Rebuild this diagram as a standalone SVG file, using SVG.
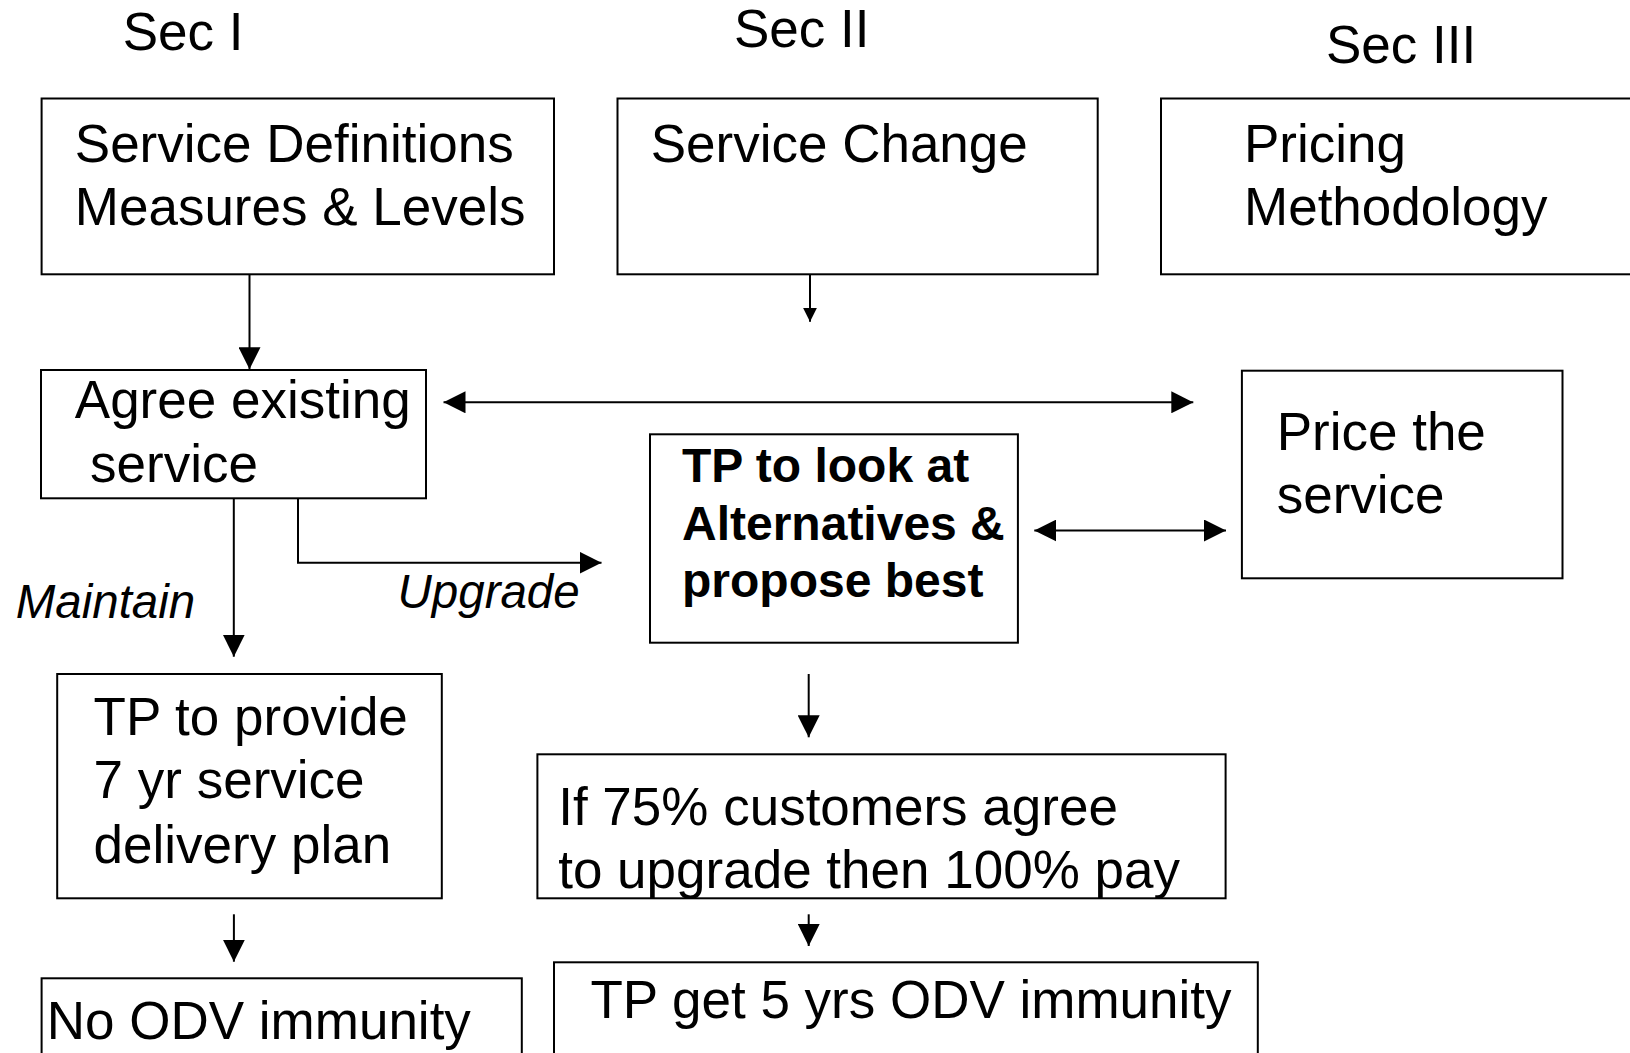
<svg xmlns="http://www.w3.org/2000/svg" width="1630" height="1053" viewBox="0 0 1630 1053">
<style>
.box{fill:#fff;stroke:#000;stroke-width:2}
.t{font-family:"Liberation Sans",Arial,sans-serif;font-size:53px;fill:#000}
.b{font-weight:bold;font-size:48px}
.i{font-style:italic;font-size:47.5px}
.c{fill:none;stroke:#000;stroke-width:2}
</style>
<defs>
<marker id="ah" markerUnits="userSpaceOnUse" markerWidth="22" markerHeight="22" viewBox="0 0 20 20" refX="20" refY="10" orient="auto-start-reverse">
<path d="M0,0 L20,10 L0,20 Z" fill="#000"/>
</marker>
<marker id="as" markerUnits="userSpaceOnUse" markerWidth="14" markerHeight="14" viewBox="0 0 13 13" refX="13" refY="6.5" orient="auto">
<path d="M0,0 L13,6.5 L0,13 Z" fill="#000"/>
</marker>
</defs>
<rect width="1630" height="1053" fill="#fff"/>
<g id="titles">
<text class="t" x="122.7" y="50">Sec I</text>
<text class="t" x="734" y="46.7">Sec II</text>
<text class="t" x="1326" y="63.3">Sec III</text>
</g>
<g id="n-defs">
<rect class="box" x="41.6" y="98.5" width="512.4" height="175.8"/>
<text class="t" x="74.8" y="161.7">Service Definitions</text>
<text class="t" x="74.8" y="225">Measures &amp; Levels</text>
</g>
<g id="n-change">
<rect class="box" x="617.5" y="98.5" width="480.2" height="175.8"/>
<text class="t" x="650.7" y="161.7">Service Change</text>
</g>
<g id="n-pricing">
<rect class="box" x="1161" y="98.5" width="480" height="175.8"/>
<text class="t" x="1244" y="161.7">Pricing</text>
<text class="t" x="1244" y="225">Methodology</text>
</g>
<g id="n-agree">
<rect class="box" x="41" y="370" width="385" height="128.3"/>
<text class="t" x="74.8" y="418.3">Agree existing</text>
<text class="t" x="90" y="481.7">service</text>
</g>
<g id="n-alt">
<rect class="box" x="650" y="434.3" width="367.9" height="208.4"/>
<text class="t b" x="682" y="481.7">TP to look at</text>
<text class="t b" x="682" y="540">Alternatives &amp;</text>
<text class="t b" x="682" y="596.7">propose best</text>
</g>
<g id="n-price">
<rect class="box" x="1241.9" y="370.7" width="320.6" height="207.6"/>
<text class="t" x="1276.7" y="450">Price the</text>
<text class="t" x="1276.7" y="513.3">service</text>
</g>
<g id="n-plan">
<rect class="box" x="57.2" y="674" width="384.6" height="224.3"/>
<text class="t" x="93.6" y="735">TP to provide</text>
<text class="t" x="93.6" y="798.3">7 yr service</text>
<text class="t" x="93.6" y="862.7">delivery plan</text>
</g>
<g id="n-vote">
<rect class="box" x="537.4" y="754.3" width="688.2" height="144"/>
<text class="t" x="558.2" y="825">If 75% customers agree</text>
<text class="t" x="558.2" y="888.3">to upgrade then 100% pay</text>
</g>
<g id="n-noodv">
<rect class="box" x="41.6" y="978.3" width="480.2" height="90"/>
<text class="t" x="46.8" y="1039.3">No ODV immunity</text>
</g>
<g id="n-odv">
<rect class="box" x="554" y="962.3" width="703.8" height="110"/>
<text class="t" x="590.5" y="1018.3">TP get 5 yrs ODV immunity</text>
</g>
<g id="connectors">
<line class="c" x1="249.5" y1="274.3" x2="249.5" y2="369.3" marker-end="url(#ah)"/>
<line class="c" x1="810" y1="274.3" x2="810" y2="321.7" marker-end="url(#as)"/>
<line class="c" x1="443.5" y1="402.3" x2="1193.3" y2="402.3" marker-start="url(#ah)" marker-end="url(#ah)"/>
<line class="c" x1="1034.3" y1="530.5" x2="1226" y2="530.5" marker-start="url(#ah)" marker-end="url(#ah)"/>
<line class="c" x1="233.8" y1="498.3" x2="233.8" y2="656.7" marker-end="url(#ah)"/>
<polyline class="c" points="298,498.3 298,562.7 601.5,562.7" marker-end="url(#ah)"/>
<line class="c" x1="808.7" y1="674" x2="808.7" y2="737.3" marker-end="url(#ah)"/>
<line class="c" x1="233.9" y1="914.3" x2="233.9" y2="961.7" marker-end="url(#ah)"/>
<line class="c" x1="808.7" y1="914.3" x2="808.7" y2="946" marker-end="url(#ah)"/>
</g>
<g id="labels">
<text class="t i" x="15.7" y="618">Maintain</text>
<text class="t i" x="397.5" y="608">Upgrade</text>
</g>
</svg>
